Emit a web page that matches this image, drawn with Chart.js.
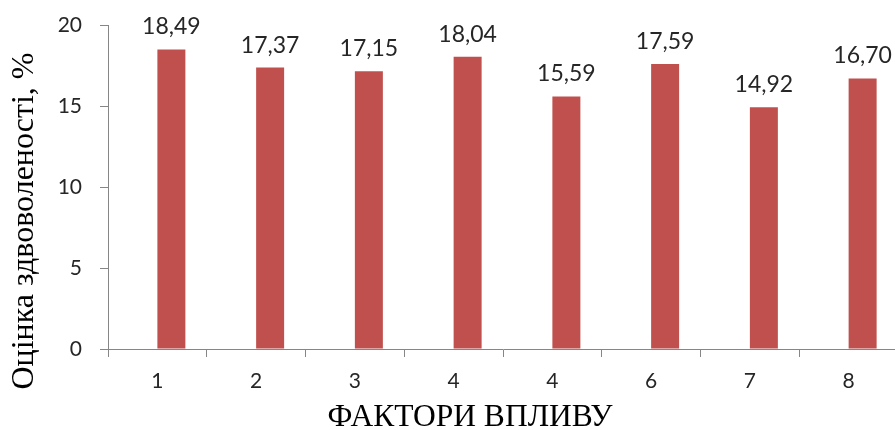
<!DOCTYPE html>
<html>
<head>
<meta charset="utf-8">
<script src="https://cdn.jsdelivr.net/npm/chart.js@4"></script>
<style>
  html, body { margin: 0; padding: 0; background: #fff; overflow: hidden; }
  #wrap { width: 898px; height: 430px; }
</style>
</head>
<body>
<div id="wrap"><canvas id="c" width="898" height="430"></canvas></div>
<script>
// Factor numbers as printed under the bars
const categories = ['1', '2', '3', '4', '4', '6', '7', '8'];
// Satisfaction score per factor, %
const scores = [18.49, 17.37, 17.15, 18.04, 15.59, 17.59, 14.92, 16.70];
// Empty companion series (keeps each bar in the right half of its slot)
const companion = [null, null, null, null, null, null, null, null];
// Value axis ticks
const yTicks = [0, 5, 10, 15, 20];

const yTitle = 'Оцінка здвоволеності, %';
const xTitle = 'ФАКТОРИ ВПЛИВУ';

const BAR = '#C0504D';
const AXIS = '#868686';
const TEXT = '#262626';
const tickFont = { family: 'Lato', size: 21 };

// Value labels above each bar and the two axis titles
const annotate = {
  id: 'annotate',
  afterDatasetsDraw(chart) {
    const ctx = chart.ctx;
    const meta = chart.getDatasetMeta(1);
    ctx.save();
    ctx.fillStyle = TEXT;
    ctx.font = '23px Lato';
    ctx.textAlign = 'center';
    ctx.textBaseline = 'alphabetic';
    meta.data.forEach((bar, i) => {
      const v = scores[i];
      ctx.fillText(v.toFixed(2).replace('.', ','), bar.x, bar.y - 15);
    });
    ctx.restore();
  },
  afterDraw(chart) {
    const ctx = chart.ctx;
    ctx.save();
    ctx.fillStyle = '#000';
    ctx.textAlign = 'center';
    ctx.textBaseline = 'alphabetic';
    ctx.font = '31.5px "Liberation Serif"';
    ctx.fillText(xTitle, 470, 426);
    ctx.font = '32px "Liberation Serif"';
    ctx.translate(33, 221);
    ctx.rotate(-Math.PI / 2);
    ctx.fillText(yTitle, 0, 0);
    ctx.restore();
  }
};

new Chart(document.getElementById('c'), {
  type: 'bar',
  data: {
    labels: categories,
    datasets: [
      { label: 'spacer', data: companion, backgroundColor: BAR },
      { label: 'score', data: scores, backgroundColor: BAR, borderWidth: 0 }
    ]
  },
  options: {
    responsive: false,
    animation: false,
    devicePixelRatio: 1,
    categoryPercentage: 0.567,
    barPercentage: 1,
    layout: { padding: { top: 25, left: 0, right: 0, bottom: 0 } },
    plugins: { legend: { display: false }, tooltip: { enabled: false } },
    scales: {
      x: {
        afterFit(scale) { scale.height = 81; scale.paddingLeft = 0; scale.paddingRight = 0; },
        grid: { offset: true, drawOnChartArea: false, tickLength: 8, color: AXIS },
        border: { color: AXIS, width: 1 },
        ticks: { color: TEXT, font: tickFont, padding: 12, maxRotation: 0, autoSkip: false }
      },
      y: {
        min: 0,
        max: 20,
        afterFit(scale) { scale.width = 108; scale.paddingTop = 0; scale.paddingBottom = 0; },
        afterBuildTicks(scale) { scale.ticks = yTicks.map(v => ({ value: v })); },
        grid: { drawOnChartArea: false, tickLength: 8, color: AXIS },
        border: { color: AXIS, width: 1 },
        ticks: { color: TEXT, font: tickFont, padding: 18 }
      }
    }
  },
  plugins: [annotate]
});
</script>
</body>
</html>
